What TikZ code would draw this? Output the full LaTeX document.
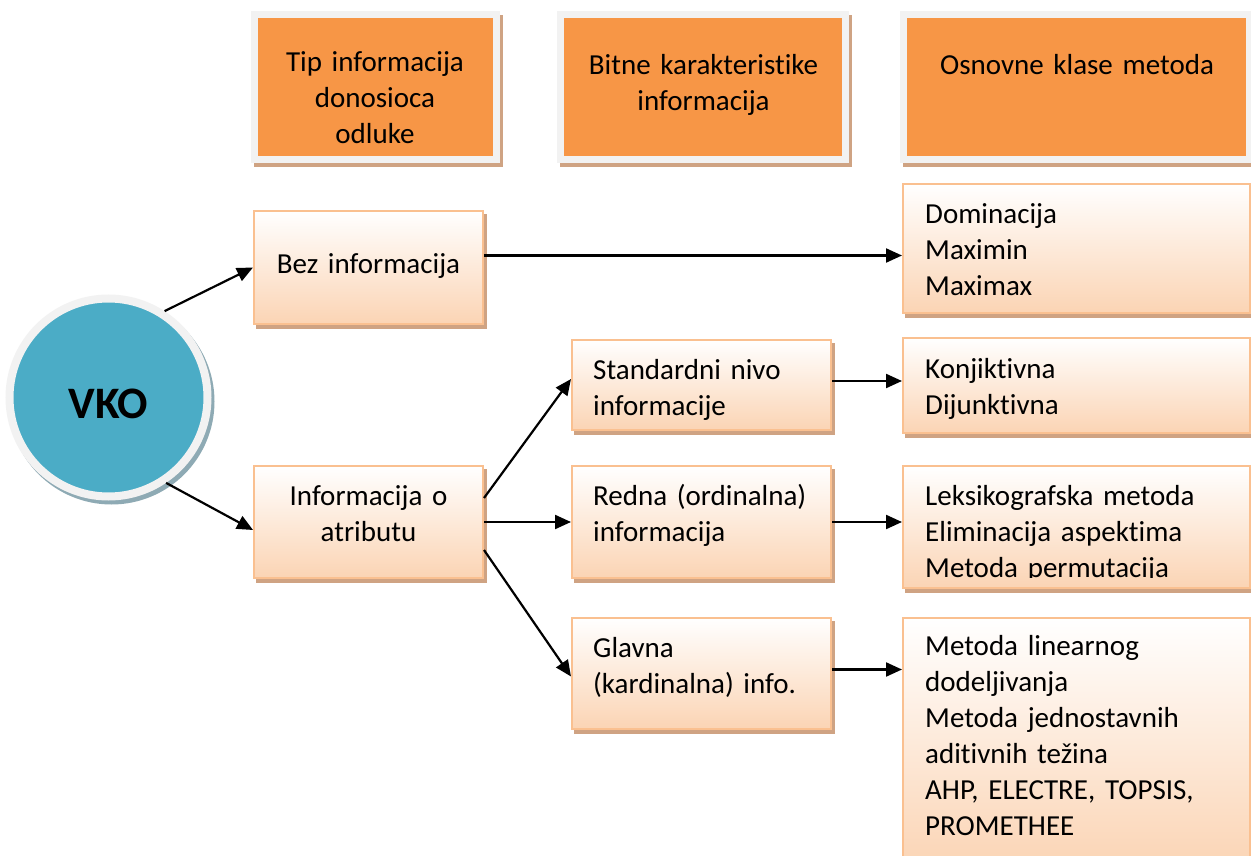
\documentclass[tikz,border=0pt]{standalone}
\usepackage{fontspec}
\setmainfont{Carlito}[Ligatures={NoCommon}]
\usetikzlibrary{arrows.meta,calc,backgrounds}
\definecolor{hdrorange}{HTML}{F79646}
\definecolor{framegray}{HTML}{F2F2F2}
\definecolor{peach}{HTML}{FBD4B4}
\definecolor{peachline}{HTML}{FAC090}
\definecolor{tanshadow}{RGB}{207,163,131}
\definecolor{vkoblue}{HTML}{4BACC6}
\definecolor{vkoshadow}{RGB}{142,170,180}

\begin{document}
\begin{tikzpicture}[x=1pt,y=-1pt,
  hdr/.style={rectangle, fill=hdrorange, draw=framegray, line width=7pt, inner sep=0},
  pbox/.style={rectangle, draw=peachline, line width=2pt, top color=white, bottom color=peach, inner sep=0},
  lbl/.style={inner sep=0, font=\fontsize{29}{36}\selectfont, text width=#1, align=left, anchor=base west},
  clbl/.style={inner sep=0, font=\fontsize{29}{36}\selectfont, text width=#1, align=center, anchor=base},
  arr/.style={line width=2.2pt, -{Triangle[length=16pt,width=14pt]}},
]
\useasboundingbox (0,0) rectangle (1251,856);

% column headers
\node[hdr, minimum width=242pt, minimum height=145pt] (h1) at (375.5,87) {};
\node[hdr, minimum width=285pt, minimum height=145pt] (h2) at (703,87) {};
\node[hdr, minimum width=346pt, minimum height=145pt] (h3) at (1076.5,87) {};
\node[clbl=240pt] (h1t) at (375,72) {Tip informacija\\donosioca\\odluke};
\node[clbl=280pt] (h2t) at (703.5,75) {Bitne karakteristike\\informacija};
\node[clbl=340pt] (h3t) at (1077,75) {Osnovne klase metoda};

% root circle
\node[circle, fill=vkoblue, draw=framegray, line width=8pt, minimum size=198pt, inner sep=0] (vko) at (108.5,397.5) {};
\node[inner sep=0, font=\bfseries\fontsize{45}{54}\selectfont] (vkot) at (108.5,403.5) {VKO};

% information type
\node[pbox, minimum width=229pt, minimum height=113pt] (bez) at (368.5,267.5) {};
\node[clbl=229pt] (bezt) at (368.5,273) {Bez informacija};
\node[pbox, minimum width=229pt, minimum height=112pt] (inf) at (368.5,522) {};
\node[clbl=229pt] (inft) at (368.5,505) {Informacija o\\atributu};

% essential characteristics
\node[pbox, minimum width=259pt, minimum height=90pt] (std) at (701.5,385) {};
\node[lbl=236pt] (stdt) at (593,379) {Standardni nivo\\informacije};
\node[pbox, minimum width=259pt, minimum height=112pt] (red) at (701.5,522) {};
\node[lbl=236pt] (redt) at (593,505) {Redna (ordinalna)\\informacija};
\node[pbox, minimum width=259pt, minimum height=111pt] (glv) at (701.5,673.5) {};
\node[lbl=236pt] (glvt) at (593,657) {Glavna\\(kardinalna) info.};

% method classes
\node[pbox, minimum width=347pt, minimum height=129pt] (dom) at (1076.5,248.5) {};
\node[lbl=320pt] (domt) at (925,223) {Dominacija\\Maximin\\Maximax};
\node[pbox, minimum width=347pt, minimum height=95pt] (konj) at (1076.5,385.5) {};
\node[lbl=320pt] (konjt) at (925,378) {Konjiktivna\\Dijunktivna};
\node[pbox, minimum width=347pt, minimum height=122pt] (leks) at (1076.5,527) {};
\begin{scope}
  \clip (903,466) rectangle (1250,577);
  \node[lbl=320pt] (lekst) at (925,505) {Leksikografska metoda\\Eliminacija aspektima\\Metoda permutacija};
\end{scope}
\node[pbox, minimum width=347pt, minimum height=252pt] (met) at (1076.5,744) {};
\node[lbl=320pt] (mett) at (925,655) {Metoda linearnog\\dodeljivanja\\Metoda jednostavnih\\aditivnih težina\\AHP, ELECTRE, TOPSIS,\\PROMETHEE};

% page background and drop shadows
\begin{scope}[on background layer]
  \fill[white] (0,0) rectangle (1251,856);
  \foreach \n in {h1,h2,h3,bez,inf,std,red,glv,dom,konj,leks,met}
    \fill[tanshadow] ($(\n.north west)+(3,4)$) rectangle ($(\n.south east)+(3,4)$);
  \fill[vkoshadow] ($(vko.center)+(3,4)$) circle[radius=103];
\end{scope}

% connectors
\draw[arr] (vko.57) -- (bez.west);
\draw[arr] (vko.-56) -- ($(inf.west)+(0,8)$);
\coordinate (c1) at ($(bez.east)+(0,-12)$);
\draw[arr] (c1) -- (c1 -| dom.west);
\draw[arr] ($(inf.east)+(0,-24)$) -- ($(std.west)+(0,-6)$);
\draw[arr] (inf.east) -- (red.west);
\draw[arr] ($(inf.east)+(0,28)$) -- ($(glv.west)+(0,3)$);
\coordinate (c2) at ($(std.east)+(0,-4)$);
\draw[arr] (c2) -- (c2 -| konj.west);
\draw[arr] (red.east) -- (red.east -| leks.west);
\coordinate (c3) at ($(glv.east)+(0,-4)$);
\draw[arr] (c3) -- (c3 -| met.west);
\end{tikzpicture}
\end{document}
